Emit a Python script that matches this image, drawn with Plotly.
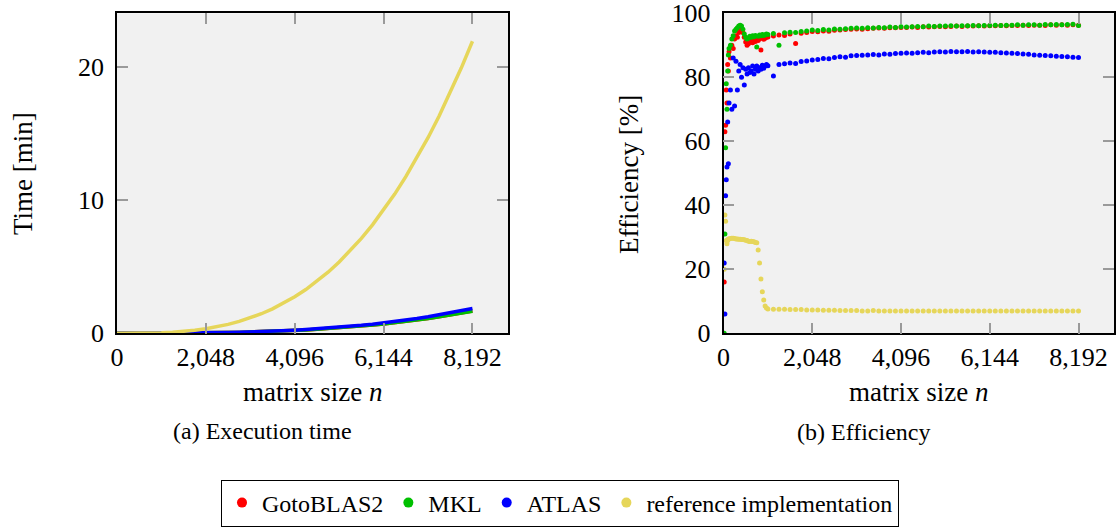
import plotly.graph_objects as go

W, H = 1116, 527

# ---------------- data ----------------
series = ["GotoBLAS2", "MKL", "ATLAS", "reference implementation"]
colors = ["#ff0000", "#00c000", "#0000ff", "#e6d65a"]

# execution time [min] sampled every 256
n_time = [0, 256, 512, 768, 1024, 1280, 1536, 1792, 2048, 2304, 2560, 2816, 3072,
          3328, 3584, 3840, 4096, 4352, 4608, 4864, 5120, 5376, 5632, 5888, 6144,
          6400, 6656, 6912, 7168, 7424, 7680, 7936, 8192]
time_goto = [0, 0.0001, 0.0004, 0.0014, 0.0034, 0.0066, 0.011, 0.0177, 0.026, 0.037,
             0.051, 0.068, 0.088, 0.112, 0.140, 0.172, 0.208, 0.250, 0.297, 0.349,
             0.406, 0.470, 0.541, 0.618, 0.702, 0.793, 0.892, 0.999, 1.114, 1.237,
             1.369, 1.511, 1.662]
time_mkl = [0, 0.0001, 0.0004, 0.0014, 0.0033, 0.0064, 0.011, 0.0175, 0.026, 0.037,
            0.051, 0.068, 0.088, 0.112, 0.140, 0.172, 0.208, 0.250, 0.296, 0.348,
            0.405, 0.469, 0.540, 0.617, 0.701, 0.792, 0.891, 0.998, 1.113, 1.236,
            1.368, 1.510, 1.660]
time_atlas = [0, 0.0001, 0.0005, 0.0016, 0.0038, 0.0074, 0.0127, 0.020, 0.030, 0.042,
              0.058, 0.077, 0.099, 0.126, 0.157, 0.192, 0.232, 0.278, 0.330, 0.387,
              0.451, 0.521, 0.599, 0.684, 0.778, 0.880, 0.990, 1.110, 1.239, 1.378,
              1.527, 1.686, 1.855]
time_ref = [0, 0.0002, 0.0013, 0.0045, 0.040, 0.083, 0.144, 0.229, 0.342, 0.487,
            0.668, 0.889, 1.155, 1.468, 1.833, 2.255, 2.738, 3.283, 3.898, 4.584,
            5.347, 6.189, 7.116, 8.132, 9.239, 10.44, 11.75, 13.15, 14.67, 16.30,
            18.04, 19.91, 21.90]

# efficiency [%]
n_eff = ([16, 32, 48, 64, 80, 96, 112, 128] + list(range(160, 1000, 32))
         + list(range(1024, 8193, 128)))
eff_goto = [16, 63, 65, 76, 72, 84, 82, 88, 86, 90, 89, 92, 93, 92.5, 94, 94.5, 95, 94,
            92.5, 91, 90, 90.5, 91, 91.5, 90.8, 91.6, 91.2, 91.8, 91.5, 92, 88.5, 92.3,
            91.9, 92.2, 92.5,
            92.6, 92.9, 93.2, 93.1, 93.5, 90.6, 93.8, 94.0, 94.3, 94.2, 94.5, 94.4, 94.7,
            94.8, 94.9, 95.0, 95.1, 95.0, 95.2, 95.3, 95.4, 95.3, 95.5, 95.5, 95.6, 95.6,
            95.7, 95.6, 95.8, 95.7, 95.8, 95.9, 95.8, 95.9, 96.0, 95.9, 96.0, 96.0, 96.1,
            96.0, 96.1, 96.1, 96.2, 96.1, 96.2, 96.2, 96.3, 96.2, 96.3, 96.3, 96.2, 96.4,
            96.3, 96.4, 96.3, 96.4, 96.3]
eff_mkl = [0, 31, 58, 78, 70, 82, 87, 89, 90, 92, 93, 94.5, 95, 95.5, 96, 96.3, 96, 95,
           93.5, 92.5, 92, 92.3, 92.8, 92.5, 93, 92.7, 93.1, 89.5, 92.8, 93.2, 93, 93.4,
           93.1, 93.3, 93.5,
           93.4, 93.7, 90.0, 93.9, 94.1, 94.0, 94.3, 94.5, 94.8, 94.6, 94.9, 94.8, 95.1,
           95.0, 95.2, 95.3, 95.4, 95.3, 95.5, 95.4, 95.6, 95.5, 95.7, 95.6, 95.8, 95.7,
           95.8, 95.9, 95.8, 96.0, 95.9, 96.0, 96.0, 96.1, 96.0, 96.1, 96.1, 96.2, 96.1,
           96.2, 96.2, 96.3, 96.2, 96.3, 96.3, 96.4, 96.3, 96.4, 96.4, 96.3, 96.5, 96.4,
           96.5, 96.4, 96.5, 96.6, 96.2]
eff_atlas = [22, 6, 43, 48, 52, 66, 53, 72, 76, 70, 86, 71, 85, 76, 82, 84, 80, 83,
             77.6, 82.5, 81, 83, 81.5, 82, 83.5, 81, 82.5, 83.5, 82, 83, 82.5, 83.8,
             82.8, 83.5, 84,
             83.6, 80.4, 84.0, 84.2, 84.5, 84.3, 84.9, 85.1, 85.4, 85.6, 85.9, 85.8, 86.2,
             86.4, 86.3, 86.7, 86.8, 86.9, 87.0, 87.1, 87.0, 87.3, 87.2, 87.4, 87.5, 87.6,
             87.5, 87.7, 87.8, 87.7, 87.9, 88.0, 87.9, 88.1, 88.0, 88.0, 88.1, 87.9, 88.0,
             87.9, 87.8, 87.8, 87.7, 87.6, 87.5, 87.4, 87.3, 87.2, 87.0, 86.9, 86.8, 86.7,
             86.6, 86.5, 86.4, 86.3, 86.2]
eff_ref = [20, 37, 35, 29, 28, 29, 29.5, 29.5, 29.6, 29.7, 29.7, 29.6, 29.5, 29.5, 29.4,
           29.4, 29.3, 29.3, 29.2, 29.1, 29.0, 28.8, 28.7, 28.8, 28.7, 28.6, 28.4, 28.3,
           26, 22, 17, 13, 10.4, 8.5, 7.9,
           7.6, 7.5, 7.5, 7.5, 7.4, 7.4, 7.4, 7.3, 7.3, 7.3, 7.2, 7.2, 7.2, 7.1, 7.1,
           7.1, 7.1, 7.0, 7.0, 7.1, 7.0, 7.0, 7.0, 7.0, 7.0, 7.0, 7.0, 7.0, 7.0, 7.0,
           7.0, 7.0, 7.0, 7.0, 7.0, 7.0, 7.0, 7.0, 7.0, 7.0, 7.0, 7.0, 7.0, 7.0, 7.0,
           7.0, 7.0, 7.0, 7.0, 7.0, 7.0, 7.0, 7.0, 7.0, 7.0, 7.0, 7.0]

x_ticks = [0, 2048, 4096, 6144, 8192]
x_ticktext = ["0", "2,048", "4,096", "6,144", "8,192"]
time_ticks = [0, 10, 20]
eff_ticks = [0, 20, 40, 60, 80, 100]

# ---------------- figure ----------------
FONT = "Liberation Serif"
fig = go.Figure()

times = [time_goto, time_mkl, time_atlas, time_ref]
effs = [eff_goto, eff_mkl, eff_atlas, eff_ref]
for name, col, t in zip(series, colors, times):
    fig.add_trace(go.Scatter(x=n_time, y=t, mode="lines", name=name, showlegend=False,
                             line=dict(color=col, width=3.5), xaxis="x", yaxis="y"))
for name, col, e in zip(series, colors, effs):
    fig.add_trace(go.Scatter(x=n_eff, y=e, mode="markers", name=name, showlegend=False,
                             marker=dict(color=col, size=5, line=dict(width=0)),
                             xaxis="x2", yaxis="y2"))
# legend entries
for name, col in zip(series, colors):
    fig.add_trace(go.Scatter(x=[None], y=[None], mode="markers", name=name,
                             marker=dict(color=col, size=10), xaxis="x2", yaxis="y2"))

y0 = (H - 333.3) / H
y1 = (H - 13.3) / H
common_ax = dict(ticks="inside", ticklen=11, tickwidth=2, tickcolor="#9a9a9a",
                 showline=True, linecolor="black", linewidth=1.5, mirror="allticks",
                 showgrid=False, zeroline=False, automargin=False,
                 ticklabeloverflow="allow",
                 tickfont=dict(family=FONT, size=26, color="black"))

fig.update_layout(
    width=W, height=H,
    margin=dict(l=0, r=0, t=0, b=0, autoexpand=False),
    paper_bgcolor="white", plot_bgcolor="#f1f1f1",
    font=dict(family=FONT, color="black"),
    xaxis=dict(domain=[117 / W, 508 / W], range=[0, 9011], tickvals=x_ticks,
               ticktext=x_ticktext, anchor="y", **common_ax),
    yaxis=dict(domain=[y0, y1], range=[0, 24], tickvals=time_ticks, anchor="x",
               ticklabelstandoff=6, **common_ax),
    xaxis2=dict(domain=[723.5 / W, 1114 / W], range=[0, 9011], tickvals=x_ticks,
                ticktext=x_ticktext, anchor="y2", **common_ax),
    yaxis2=dict(domain=[y0, y1], range=[0, 100], tickvals=eff_ticks, anchor="x2",
                ticklabelstandoff=6, **common_ax),
    legend=dict(orientation="h", x=560 / W, y=(H - 503) / H, xanchor="center",
                yanchor="middle", bordercolor="black", borderwidth=1, bgcolor="white",
                font=dict(family=FONT, size=24, color="black"), itemsizing="trace",
                tracegroupgap=0, itemwidth=30),
    showlegend=True,
)

def ann(text, x, y, size, angle=0):
    fig.add_annotation(text=text, x=x / W, y=(H - y) / H, xref="paper", yref="paper",
                       showarrow=False, textangle=angle, xanchor="center", yanchor="middle",
                       font=dict(family=FONT, size=size, color="black"))

ann("matrix size <i>n</i>", 312.5, 392, 27)
ann("matrix size <i>n</i>", 918.8, 392, 27)
ann("Time [min]", 23, 174, 27, -90)
ann("Efficiency [%]", 629, 175, 27, -90)
ann("(a) Execution time", 262, 431, 24)
ann("(b) Efficiency", 864, 432, 24)

fig.write_html("out.html", config={"displayModeBar": False},
               post_script="document.body.style.margin='0';"
               "document.body.style.overflow='hidden';")
